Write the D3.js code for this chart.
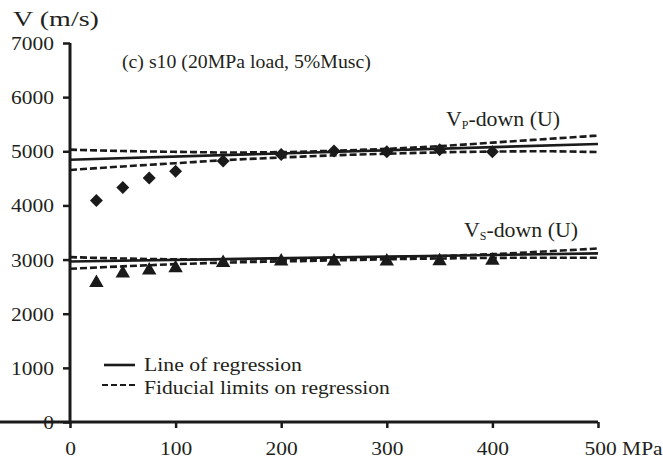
<!DOCTYPE html>
<html><head><meta charset="utf-8">
<script src="https://cdn.jsdelivr.net/npm/d3@7"></script>
<style>
html,body{margin:0;padding:0;background:#fff;}
svg{display:block;}
text{font-family:"Liberation Serif","Times New Roman",serif;fill:#231f20;}
</style></head>
<body>
<svg id="chart" width="663" height="458"></svg>
<script>
// ---- data ----
const pressure = [25, 50, 75, 100, 145, 200, 250, 300, 350, 400];
const vpDown = [4090, 4330, 4505, 4630, 4820, 4940, 5005, 4990, 5030, 4990];
const vsDown = [2610, 2785, 2840, 2880, 2980, 3005, 3005, 3005, 3010, 3020];

const regX = [0, 500];
const vpReg = [4845, 5135];
const vsReg = [2965, 3115];

const limX = [0, 50, 100, 150, 200, 250, 300, 350, 400, 450, 500];
const vpUpper = [5030, 5005, 4990, 4978, 4985, 5010, 5045, 5095, 5160, 5225, 5290];
const vpLower = [4655, 4720, 4780, 4840, 4885, 4925, 4955, 4980, 4995, 5000, 4985];
const vsUpper = [3045, 3020, 3005, 3000, 3005, 3015, 3035, 3065, 3100, 3150, 3205];
const vsLower = [2830, 2875, 2915, 2945, 2965, 2985, 3005, 3020, 3030, 3035, 3035];

const xTicks = [0, 100, 200, 300, 400, 500];
const yTicks = [0, 1000, 2000, 3000, 4000, 5000, 6000, 7000];

// ---- drawing ----
const svg = d3.select("#chart");
const ink = "#1a1a1a";
const SX = 1.13; // horizontal stretch of the glyphs

const x = d3.scaleLinear().domain([0, 500]).range([70, 598]);
const y = d3.scaleLinear().domain([0, 7000]).range([422, 43]);

// axes
const yAxis = svg.append("g").attr("transform", "translate(70,0)")
  .call(d3.axisLeft(y).tickValues(yTicks).tickSize(7).tickSizeOuter(0).tickFormat(d3.format("d")));
yAxis.selectAll("text").attr("x", null).attr("dy", "0.34em")
  .attr("transform", `translate(-16,0) scale(${SX},1)`)
  .style("font-size", "19px");

const xAxis = svg.append("g").attr("transform", "translate(0,422)")
  .call(d3.axisBottom(x).tickValues(xTicks).tickSize(6).tickSizeOuter(0)
    .tickFormat(d => d === 500 ? "500 MPa" : d));
xAxis.selectAll("text").attr("y", null).attr("dy", null)
  .attr("transform", d => d === 500 ? `translate(-14,33) scale(${SX},1)` : `translate(0,33) scale(${SX},1)`)
  .attr("text-anchor", d => d === 500 ? "start" : "middle")
  .style("font-size", "19px");

[yAxis, xAxis].forEach(a => {
  a.select(".domain").attr("stroke", ink).attr("stroke-width", 3);
  a.selectAll(".tick line").attr("stroke", ink).attr("stroke-width", 2.5);
  a.selectAll("text").attr("fill", "#231f20").style("font-family", '"Liberation Serif",serif');
});
yAxis.select(".domain").attr("d", `M0,${y(7000)}V${y(0) + 1.5}`);
xAxis.select(".domain").attr("d", `M-1.5,0H${x(500)}`);

// lines
const line = d3.line().x(d => x(d[0])).y(d => y(d[1]));
const curve = d3.line().curve(d3.curveMonotoneX).x(d => x(d[0])).y(d => y(d[1]));

function drawSet(reg, up, lo) {
  svg.append("path").attr("d", curve(limX.map((v, i) => [v, up[i]])))
    .attr("fill", "none").attr("stroke", ink).attr("stroke-width", 2.6).attr("stroke-dasharray", "7,3");
  svg.append("path").attr("d", curve(limX.map((v, i) => [v, lo[i]])))
    .attr("fill", "none").attr("stroke", ink).attr("stroke-width", 2.6).attr("stroke-dasharray", "7,3");
  svg.append("path").attr("d", line(regX.map((v, i) => [v, reg[i]])))
    .attr("fill", "none").attr("stroke", ink).attr("stroke-width", 2.6);
}
drawSet(vpReg, vpUpper, vpLower);
drawSet(vsReg, vsUpper, vsLower);

// markers
const diamond = d3.symbol().type(d3.symbolSquare).size(84)();
svg.append("g").selectAll("path").data(pressure).join("path")
  .attr("d", diamond)
  .attr("transform", (d, i) => `translate(${x(d)},${y(vpDown[i])}) rotate(45)`)
  .attr("fill", ink);

const triSize = 90;
const triR = Math.sqrt(triSize / (3 * Math.sqrt(3)));
const tri = d3.symbol().type(d3.symbolTriangle).size(triSize)();
svg.append("g").selectAll("path").data(pressure).join("path")
  .attr("d", tri)
  .attr("transform", (d, i) => `translate(${x(d)},${y(vsDown[i]) + triR / 2})`)
  .attr("fill", ink);

// free text, stretched to the measured width
function label(parts, x0, base, size, width) {
  const t = svg.append("text").attr("x", 0).attr("y", 0).style("font-size", size + "px");
  parts.forEach(p => {
    const ts = t.append("tspan").text(p.t);
    if (p.sub) ts.style("font-size", (size * 0.55) + "px").attr("dy", "0.25em");
    else if (p.after) ts.attr("dy", "-0.14em");
  });
  const w = t.node().getComputedTextLength();
  t.attr("transform", `translate(${x0},${base}) scale(${width / w},1)`);
  return t;
}
label([{t: "V (m/s)"}], 13, 26, 21, 86);
label([{t: "(c) s10 (20MPa load, 5%Musc)"}], 122, 68, 18, 249);
label([{t: "V"}, {t: "P", sub: true}, {t: "-down (U)", after: true}], 446, 126, 21, 114);
label([{t: "V"}, {t: "S", sub: true}, {t: "-down (U)", after: true}], 464, 237, 21, 114);

// legend
svg.append("line").attr("x1", 104).attr("x2", 135).attr("y1", 365).attr("y2", 365)
  .attr("stroke", ink).attr("stroke-width", 2.6);
svg.append("line").attr("x1", 102).attr("x2", 135).attr("y1", 385).attr("y2", 385)
  .attr("stroke", ink).attr("stroke-width", 2.2).attr("stroke-dasharray", "6,3");
label([{t: "Line of regression"}], 144, 371, 19, 158);
label([{t: "Fiducial limits on regression"}], 144, 394, 19, 246);
</script>
</body></html>
